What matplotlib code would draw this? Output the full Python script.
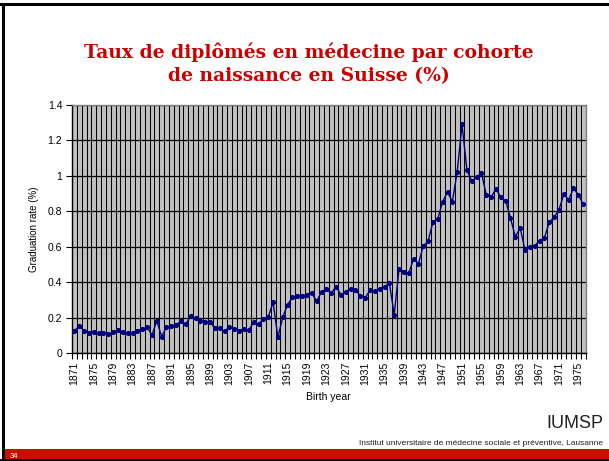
import matplotlib
matplotlib.use("Agg")
import matplotlib.pyplot as plt
from matplotlib.patches import Rectangle
from matplotlib.ticker import FixedLocator, NullFormatter

years = list(range(1871, 1977))
rates = [
    0.126, 0.151, 0.126, 0.111, 0.117, 0.111, 0.115, 0.105, 0.119, 0.130,
    0.120, 0.111, 0.113, 0.126, 0.136, 0.147, 0.100, 0.183, 0.092, 0.147,
    0.153, 0.158, 0.181, 0.162, 0.211, 0.195, 0.180, 0.175, 0.175, 0.139,
    0.139, 0.122, 0.149, 0.134, 0.126, 0.137, 0.130, 0.173, 0.164, 0.192,
    0.203, 0.286, 0.089, 0.203, 0.273, 0.314, 0.324, 0.324, 0.328, 0.338,
    0.292, 0.346, 0.360, 0.337, 0.375, 0.328, 0.347, 0.362, 0.354, 0.324,
    0.311, 0.354, 0.350, 0.363, 0.373, 0.395, 0.217, 0.476, 0.460, 0.450,
    0.533, 0.503, 0.605, 0.631, 0.740, 0.757, 0.855, 0.908, 0.855, 1.023,
    1.290, 1.034, 0.970, 0.992, 1.017, 0.893, 0.879, 0.927, 0.879, 0.859,
    0.761, 0.657, 0.706, 0.580, 0.597, 0.606, 0.633, 0.650, 0.738, 0.766,
    0.808, 0.896, 0.864, 0.930, 0.893, 0.840,
]
label_years = years[::4]
y_ticks = [0, 0.2, 0.4, 0.6, 0.8, 1.0, 1.2, 1.4]
y_ticklabels = ["0", "0.2", "0.4", "0.6", "0.8", "1", "1.2", "1.4"]

title_lines = ["Taux de diplômés en médecine par cohorte",
               "de naissance en Suisse (%)"]
xlabel = "Birth year"
ylabel = "Graduation rate (%)"

W, H = 609, 461
fig = plt.figure(figsize=(W / 100, H / 100), dpi=100)
fig.patch.set_facecolor("white")

def fx(px):
    return px / W

def fy(py):
    return 1 - py / H

# slide frame
fig.patches.append(Rectangle((0, fy(6)), 1, 3 / H, transform=fig.transFigure,
                             facecolor="black", edgecolor="none"))
fig.patches.append(Rectangle((fx(2), 0), 3 / W, fy(4), transform=fig.transFigure,
                             facecolor="black", edgecolor="none"))
fig.patches.append(Rectangle((fx(5), fy(459)), 1, 10 / H, transform=fig.transFigure,
                             facecolor="#C41200", edgecolor="none"))
fig.patches.append(Rectangle((0, 0), 1, 2 / H, transform=fig.transFigure,
                             facecolor="black", edgecolor="none"))

left, right, top, bottom = 72, 585.6, 105, 353
ax = fig.add_axes([fx(left), fy(bottom), (right - left) / W, (bottom - top) / H])
ax.set_facecolor("#C0C0C0")

ax.plot(years, rates, color="#000080", lw=1.0, marker="o", ms=2.7,
        markerfacecolor="#000080", markeredgecolor="#000080", zorder=3)

ax.set_xlim(years[0] - 0.5, years[-1] + 0.5)
ax.set_ylim(0, 1.4)

boundaries = [y - 0.5 for y in years] + [years[-1] + 0.5]
ax.xaxis.set_major_locator(FixedLocator(label_years))
ax.set_xticklabels([str(y) for y in label_years], rotation=90,
                   fontsize=7.5, family="Liberation Sans")
ax.xaxis.set_minor_locator(FixedLocator(boundaries))
ax.xaxis.set_minor_formatter(NullFormatter())
ax.tick_params(axis="x", which="major", length=0, pad=6)
ax.tick_params(axis="x", which="minor", length=4, width=0.8, color="black", direction="out")

ax.set_yticks(y_ticks)
ax.set_yticklabels(y_ticklabels, fontsize=7.5, family="Liberation Sans")
ax.tick_params(axis="y", length=4, width=0.8, color="black", direction="out", pad=3)

ax.grid(True, axis="x", which="minor", color="black", lw=0.75)
ax.grid(True, axis="y", which="major", color="black", lw=0.9)
ax.set_axisbelow(True)

for s in ["top", "right"]:
    ax.spines[s].set_color("#808080")
    ax.spines[s].set_linewidth(1.0)
for s in ["left", "bottom"]:
    ax.spines[s].set_color("black")
    ax.spines[s].set_linewidth(1.0)

ax.set_xlabel(xlabel, fontsize=7.5, family="Liberation Sans", labelpad=5)
ax.set_ylabel(ylabel, fontsize=7, family="Liberation Sans", labelpad=6)

fig.text(fx(309), fy(52), title_lines[0], ha="center", va="center", color="#CC0000",
         fontsize=13.5, fontweight="bold", family="DejaVu Serif")
fig.text(fx(309), fy(76), title_lines[1], ha="center", va="center", color="#CC0000",
         fontsize=13.5, fontweight="bold", family="DejaVu Serif")

fig.text(fx(603), fy(428), "IUMSP", ha="right", va="baseline", fontsize=13,
         family=["Liberation Sans Narrow", "Liberation Sans"], color="#202020")
fig.text(fx(603), fy(445), "Institut universitaire de médecine sociale et préventive, Lausanne",
         ha="right", va="baseline", fontsize=6.0,
         family=["Liberation Sans Narrow", "Liberation Sans"], color="#202020")
fig.text(fx(10), fy(457.5), "34", ha="left", va="baseline", fontsize=5.5,
         color="white", family="Liberation Sans")

fig.savefig("out.png", dpi=100)
